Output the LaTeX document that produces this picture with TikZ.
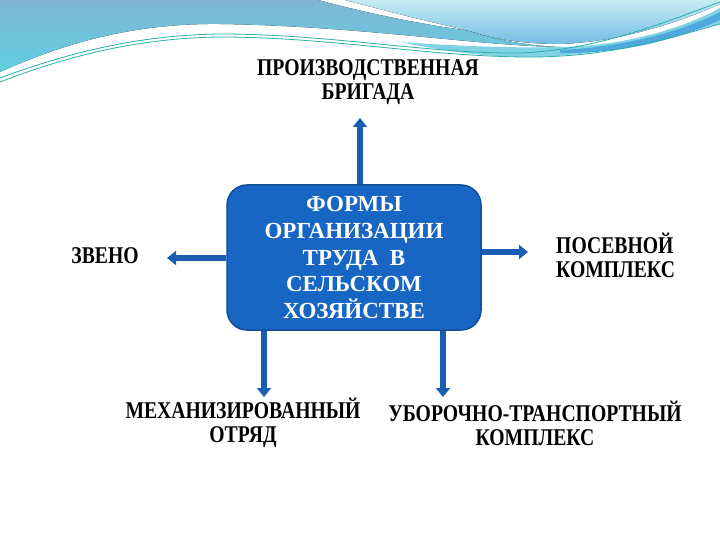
\documentclass[tikz,border=0pt]{standalone}
\usepackage{fontspec}
\setmainfont{Liberation Serif}
\newfontfamily\labfont[FakeStretch=0.82]{Liberation Serif}
\usetikzlibrary{arrows.meta}
\definecolor{boxblue}{HTML}{1766C4}
\definecolor{boxedge}{HTML}{104E98}
\definecolor{arrblue}{HTML}{1A5EB2}
\definecolor{wl1}{HTML}{80B6D4}
\definecolor{wl2}{HTML}{5FCFE1}
\definecolor{wr1}{HTML}{C6EBF1}
\definecolor{wr2}{HTML}{72BEE6}
\definecolor{wcyan}{HTML}{7FD3E3}
\definecolor{wblue}{HTML}{4DA8DE}
\definecolor{wteal}{HTML}{2AAFA9}
\begin{document}
\begin{tikzpicture}[x=1pt,y=-1pt,
  mainbox/.style={rounded corners=20pt, minimum width=254pt, minimum height=145pt,
    fill=boxblue, draw=boxedge, line width=1.5pt, text=white, inner sep=0pt,
    align=center, font=\bfseries\fontsize{23}{26.7}\selectfont},
  lab/.style={align=center, inner sep=0pt, text=black,
    font=\labfont\bfseries\fontsize{24}{24}\selectfont},
  arr/.style={draw=arrblue, line width=6.5pt, -{Triangle[width=14pt,length=9pt]}},
  tealline/.style={draw=wteal, line width=0.8pt}
]
\useasboundingbox (0,0) rectangle (720,540);
\fill[white] (0,0) rectangle (720,540);
% --- decorative waves ---
\fill[top color=wl1,bottom color=wl2] (0,0) -- (318,0) .. controls (370,14) and (420,24) .. (470,31)
  .. controls (495,40) and (530,46) .. (560,47) .. controls (480,46) and (360,26) .. (220,24)
  .. controls (130,23) and (60,45) .. (0,72) -- cycle;
\fill[top color=wr1,bottom color=wr2] (345,0) -- (720,0) -- (720,4) .. controls (680,22) and (620,42) .. (560,44)
  .. controls (520,44) and (490,38) .. (470,31) .. controls (430,22) and (390,12) .. (345,0) -- cycle;
\fill[wcyan] (400,42) .. controls (470,47) and (520,48) .. (560,47) .. controls (630,46) and (690,25) .. (720,8)
  -- (720,24) .. controls (670,36) and (610,56) .. (530,57) .. controls (480,57) and (440,50) .. (400,42) -- cycle;
\fill[wblue] (560,50) .. controls (630,47) and (690,28) .. (720,12) -- (720,20) .. controls (685,36) and (630,54) .. (560,53) -- cycle;
\draw[tealline] (0,82) .. controls (70,55) and (140,38) .. (220,37) .. controls (330,37) and (430,57) .. (530,57)
  .. controls (610,57) and (670,38) .. (720,24);
\draw[tealline] (0,78) .. controls (70,52) and (140,35) .. (220,34) .. controls (330,34) and (430,54) .. (520,53)
  .. controls (600,50) and (670,20) .. (720,2);
% --- main box ---
\node[mainbox] (box) at (354,257.5) {ФОРМЫ\\ОРГАНИЗАЦИИ\\ТРУДА\ \ В\\СЕЛЬСКОМ\\ХОЗЯЙСТВЕ};
% --- labels ---
\node[lab] (prod) at (368,82) {ПРОИЗВОДСТВЕННАЯ\\БРИГАДА};
\node[lab] (zveno) at (105,256) {ЗВЕНО};
\node[lab, anchor=west, align=left] (posev) at (556,255) {ПОСЕВНОЙ\\КОМПЛЕКС};
\node[lab] (mech) at (243,423) {МЕХАНИЗИРОВАННЫЙ\\ОТРЯД};
\node[lab] (ubor) at (535,423) {УБОРОЧНО-ТРАНСПОРТНЫЙ\\КОМПЛЕКС};
% --- arrows ---
\coordinate (upT) at (360,118);
\coordinate (leftT) at (167,258);
\coordinate (rightT) at (528,252);
\coordinate (downA) at (264,397);
\coordinate (downB) at (443,397);
\draw[arr] (box.north -| upT) -- (upT);
\draw[arr] (box.west |- leftT) -- (leftT);
\draw[arr] (box.east |- rightT) -- (rightT);
\draw[arr] (box.south -| downA) -- (downA);
\draw[arr] (box.south -| downB) -- (downB);
\end{tikzpicture}
\end{document}
